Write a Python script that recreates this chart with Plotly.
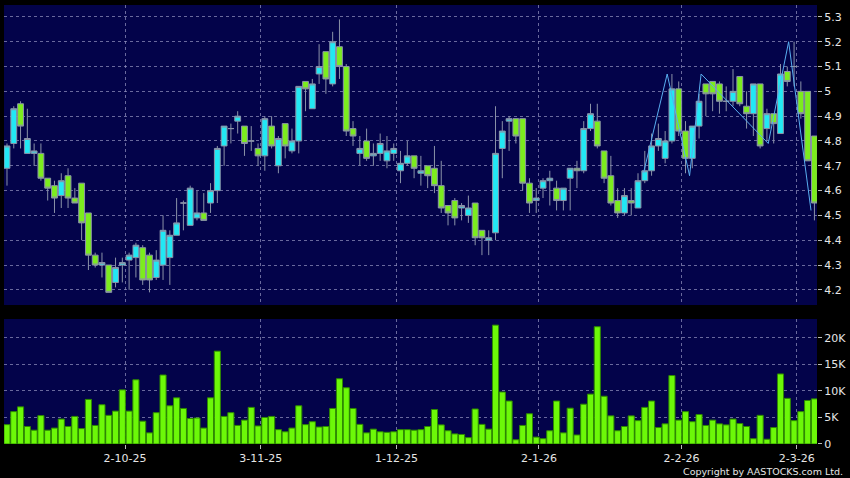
import pandas as pd
import plotly.graph_objects as go

# ---------------- data ----------------
holidays = ["2025-10-01", "2025-10-07", "2025-10-29", "2025-12-25", "2025-12-26",
            "2026-01-01", "2026-02-17", "2026-02-18", "2026-02-19"]
dates = [d.strftime("%Y-%m-%d") for d in pd.bdate_range("2025-09-08", "2026-03-05")
         if d.strftime("%Y-%m-%d") not in holidays]

opens = [4.69, 4.79, 4.95, 4.75, 4.75, 4.75, 4.65, 4.62, 4.58, 4.66,
         4.57, 4.63, 4.51, 4.34, 4.30, 4.30, 4.23, 4.30, 4.32, 4.33,
         4.37, 4.34, 4.25, 4.30, 4.33, 4.42, 4.55, 4.46, 4.49, 4.51,
         4.55, 4.60, 4.78, 4.85, 4.88, 4.86, 4.80, 4.77, 4.74, 4.86,
         4.70, 4.87, 4.76, 4.80, 5.04, 4.93, 5.07, 5.16, 5.03, 5.18,
         5.10, 4.85, 4.75, 4.80, 4.74, 4.75, 4.72, 4.75, 4.68, 4.71,
         4.74, 4.67, 4.70, 4.69, 4.62, 4.54, 4.56, 4.53, 4.50, 4.55,
         4.44, 4.40, 4.43, 4.77, 4.88, 4.89, 4.89, 4.63, 4.56, 4.61,
         4.64, 4.61, 4.56, 4.65, 4.69, 4.68, 4.85, 4.88, 4.76, 4.66,
         4.56, 4.51, 4.56, 4.53, 4.64, 4.68, 4.78, 4.73, 4.80, 5.01,
         4.84, 4.73, 4.86, 5.03, 5.04, 5.03, 4.96, 4.96, 5.06, 4.94,
         4.91, 5.03, 4.85, 4.91, 4.83, 5.08, 5.10, 5.00, 5.00, 4.82]
highs = [4.79, 4.94, 4.96, 4.93, 4.79, 4.79, 4.65, 4.64, 4.67, 4.69,
         4.61, 4.63, 4.51, 4.35, 4.35, 4.30, 4.33, 4.33, 4.35, 4.39,
         4.38, 4.35, 4.36, 4.50, 4.44, 4.57, 4.56, 4.62, 4.60, 4.59,
         4.63, 4.78, 4.86, 4.87, 4.92, 4.86, 4.86, 4.79, 4.90, 4.90,
         4.82, 4.87, 4.85, 5.02, 5.04, 5.05, 5.19, 5.16, 5.24, 5.29,
         5.11, 4.88, 4.82, 4.85, 4.79, 4.83, 4.82, 4.79, 4.76, 4.80,
         4.74, 4.74, 4.70, 4.78, 4.72, 4.54, 4.57, 4.55, 4.58, 4.55,
         4.44, 4.44, 4.94, 4.88, 4.90, 4.89, 4.89, 4.65, 4.61, 4.65,
         4.68, 4.64, 4.61, 4.69, 4.72, 4.88, 4.95, 4.95, 4.76, 4.74,
         4.61, 4.61, 4.61, 4.67, 4.76, 4.83, 4.87, 4.84, 5.07, 5.04,
         4.88, 4.86, 4.99, 5.03, 5.04, 5.04, 5.02, 5.09, 5.06, 5.00,
         5.03, 5.03, 4.93, 4.91, 5.11, 5.10, 5.20, 5.04, 5.00, 4.82]
lows = [4.62, 4.77, 4.77, 4.75, 4.70, 4.64, 4.56, 4.51, 4.53, 4.53,
        4.55, 4.40, 4.28, 4.29, 4.25, 4.19, 4.21, 4.23, 4.20, 4.25,
        4.22, 4.19, 4.24, 4.24, 4.22, 4.42, 4.44, 4.46, 4.48, 4.48,
        4.51, 4.55, 4.70, 4.79, 4.83, 4.74, 4.76, 4.70, 4.68, 4.77,
        4.67, 4.73, 4.75, 4.75, 4.92, 4.93, 5.03, 4.99, 5.02, 5.05,
        4.82, 4.78, 4.70, 4.72, 4.70, 4.72, 4.69, 4.72, 4.63, 4.70,
        4.65, 4.62, 4.61, 4.59, 4.51, 4.46, 4.46, 4.48, 4.47, 4.38,
        4.34, 4.34, 4.40, 4.65, 4.76, 4.79, 4.60, 4.51, 4.51, 4.57,
        4.54, 4.52, 4.52, 4.52, 4.61, 4.67, 4.84, 4.77, 4.63, 4.54,
        4.49, 4.50, 4.50, 4.53, 4.63, 4.66, 4.76, 4.71, 4.79, 4.82,
        4.67, 4.69, 4.81, 4.90, 4.92, 4.91, 4.92, 4.94, 4.94, 4.85,
        4.82, 4.77, 4.80, 4.79, 4.83, 5.02, 5.02, 4.89, 4.72, 4.48]
closes = [4.78, 4.93, 4.86, 4.81, 4.76, 4.65, 4.61, 4.57, 4.64, 4.57,
          4.55, 4.47, 4.34, 4.30, 4.31, 4.19, 4.29, 4.31, 4.34, 4.38,
          4.24, 4.24, 4.32, 4.44, 4.42, 4.47, 4.55, 4.61, 4.51, 4.48,
          4.60, 4.77, 4.86, 4.85, 4.90, 4.79, 4.80, 4.74, 4.89, 4.78,
          4.81, 4.78, 4.80, 5.02, 5.01, 5.03, 5.10, 5.05, 5.20, 5.10,
          4.84, 4.82, 4.77, 4.73, 4.75, 4.79, 4.76, 4.77, 4.71, 4.74,
          4.69, 4.68, 4.66, 4.62, 4.53, 4.51, 4.49, 4.54, 4.53, 4.41,
          4.41, 4.41, 4.75, 4.84, 4.89, 4.82, 4.63, 4.55, 4.57, 4.64,
          4.65, 4.56, 4.61, 4.69, 4.68, 4.85, 4.91, 4.78, 4.65, 4.55,
          4.51, 4.58, 4.55, 4.64, 4.68, 4.78, 4.81, 4.80, 5.01, 4.84,
          4.73, 4.86, 4.96, 4.99, 4.99, 4.96, 4.96, 5.00, 4.95, 4.91,
          5.03, 4.78, 4.91, 4.87, 5.07, 5.04, 5.10, 4.91, 4.72, 4.55]
volumes_k = [3.65, 6.1, 7.0, 3.3, 2.6, 5.35, 2.6, 3.0, 4.7, 3.3,
             5.2, 2.9, 8.4, 3.5, 7.4, 5.4, 6.2, 10.2, 6.2, 12.1,
             4.3, 2.1, 5.9, 13.0, 7.2, 8.7, 6.7, 4.8, 4.9, 3.0,
             8.7, 17.5, 5.2, 5.9, 3.5, 4.5, 6.9, 3.4, 5.0, 5.2,
             2.7, 2.3, 3.0, 7.2, 3.65, 4.2, 3.2, 3.3, 6.7, 12.3,
             10.6, 6.7, 3.7, 2.1, 2.8, 2.3, 2.2, 2.3, 2.7, 2.7,
             2.6, 2.7, 3.3, 6.5, 3.6, 2.5, 1.9, 1.8, 1.2, 6.6,
             3.7, 2.8, 22.4, 9.8, 8.1, 0.8, 3.5, 5.7, 1.3, 1.0,
             2.5, 8.1, 2.1, 6.75, 1.7, 7.5, 9.4, 22.1, 9.0, 5.3,
             2.5, 3.3, 5.3, 4.4, 6.9, 8.1, 3.1, 3.8, 12.9, 4.5,
             6.1, 4.2, 5.55, 3.5, 4.5, 3.8, 3.6, 4.7, 3.85, 3.3,
             1.0, 5.4, 0.9, 3.1, 13.2, 8.6, 4.4, 6.1, 8.2, 8.5]
volumes = [v * 1000 for v in volumes_k]

# overlay line (positions on the trading-day axis, price)
line_pos = [93.8, 97.3, 100.6, 102.3, 112.2, 115.2, 118.5]
line_vals = [4.67, 5.07, 4.66, 5.07, 4.79, 5.20, 4.52]

tick_dates = ["2025-10-02", "2025-11-03", "2025-12-01", "2026-01-02", "2026-02-02", "2026-03-02"]
tick_text = ["2-10-25", "3-11-25", "1-12-25", "2-1-26", "2-2-26", "2-3-26"]
price_ticks = [4.2, 4.3, 4.4, 4.5, 4.6, 4.7, 4.8, 4.9, 5.0, 5.1, 5.2, 5.3]
price_tick_text = ["4.2", "4.3", "4.4", "4.5", "4.6", "4.7", "4.8", "4.9", "5", "5.1", "5.2", "5.3"]
vol_ticks = [0, 5000, 10000, 15000, 20000]
vol_tick_text = ["0", "5K", "10K", "15K", "20K"]

# ---------------- figure ----------------
xs = list(range(len(dates)))
tick_pos = [dates.index(d) + 0.4 for d in tick_dates]

BG = "#03034a"
GRID = "rgba(140,140,185,0.75)"
CYAN = "#22e8f4"
GREEN = "#7cec1e"
EDGE = "#8b93a8"
VOL = "#6cf808"
FONT = dict(family="DejaVu Sans, Verdana, sans-serif", size=11, color="#e6e6e6")

fig = go.Figure()
fig.add_trace(go.Candlestick(
    x=xs, open=opens, high=highs, low=lows, close=closes,
    increasing=dict(fillcolor=CYAN, line=dict(color=EDGE, width=1)),
    decreasing=dict(fillcolor=GREEN, line=dict(color=EDGE, width=1)),
    whiskerwidth=0, hoverinfo="skip", showlegend=False,
    xaxis="x", yaxis="y"))
fig.add_trace(go.Scatter(
    x=line_pos, y=line_vals, mode="lines",
    line=dict(color="#58aef0", width=1), hoverinfo="skip", showlegend=False,
    xaxis="x", yaxis="y"))
fig.add_trace(go.Bar(
    x=xs, y=volumes,
    marker=dict(color=VOL, line=dict(color="#2e8a00", width=1)),
    hoverinfo="skip", showlegend=False, xaxis="x2", yaxis="y2"))

xrange = [-0.44, 119.38]
grid_common = dict(showgrid=True, gridcolor=GRID, gridwidth=1, griddash="3px,3px",
                   zeroline=False, showline=False)

fig.update_layout(
    width=850, height=478, autosize=False,
    margin=dict(l=4, r=33, t=5, b=34, pad=0),
    paper_bgcolor="#000000", plot_bgcolor=BG,
    font=FONT, boxgap=0.14, boxgroupgap=0, bargap=0.1,
    xaxis=dict(domain=[0, 1], anchor="y", range=xrange, tickvals=tick_pos,
               showticklabels=False, ticks="", rangeslider=dict(visible=False),
               **grid_common),
    xaxis2=dict(domain=[0, 1], anchor="y2", range=xrange, matches="x",
                tickvals=tick_pos, ticktext=tick_text, ticks="outside",
                ticklen=4, tickcolor="#bbbbbb", tickfont=FONT, **grid_common),
    yaxis=dict(domain=[0.3166, 1], anchor="x", side="right", range=[4.139, 5.348],
               tickvals=price_ticks, ticktext=price_tick_text, ticks="outside",
               ticklen=4, tickcolor="#bbbbbb", tickfont=FONT, **grid_common),
    yaxis2=dict(domain=[0, 0.2847], anchor="x2", side="right", range=[0, 23550],
                tickvals=vol_ticks, ticktext=vol_tick_text, ticks="outside",
                ticklen=4, tickcolor="#bbbbbb", tickfont=FONT, **grid_common),
    annotations=[dict(text="Copyright by AASTOCKS.com Ltd.", xref="paper", yref="paper",
                      x=1.0344, y=-0.063, xanchor="right", yanchor="middle",
                      showarrow=False,
                      font=dict(family="DejaVu Sans, Verdana, sans-serif", size=9.5,
                                color="#e6e6e6"))],
)

fig.write_html(
    "out.html",
    config={"displayModeBar": False, "staticPlot": True},
    post_script="document.body.style.margin='0';document.body.style.background='#000';"
                "document.body.style.overflow='hidden';",
)
